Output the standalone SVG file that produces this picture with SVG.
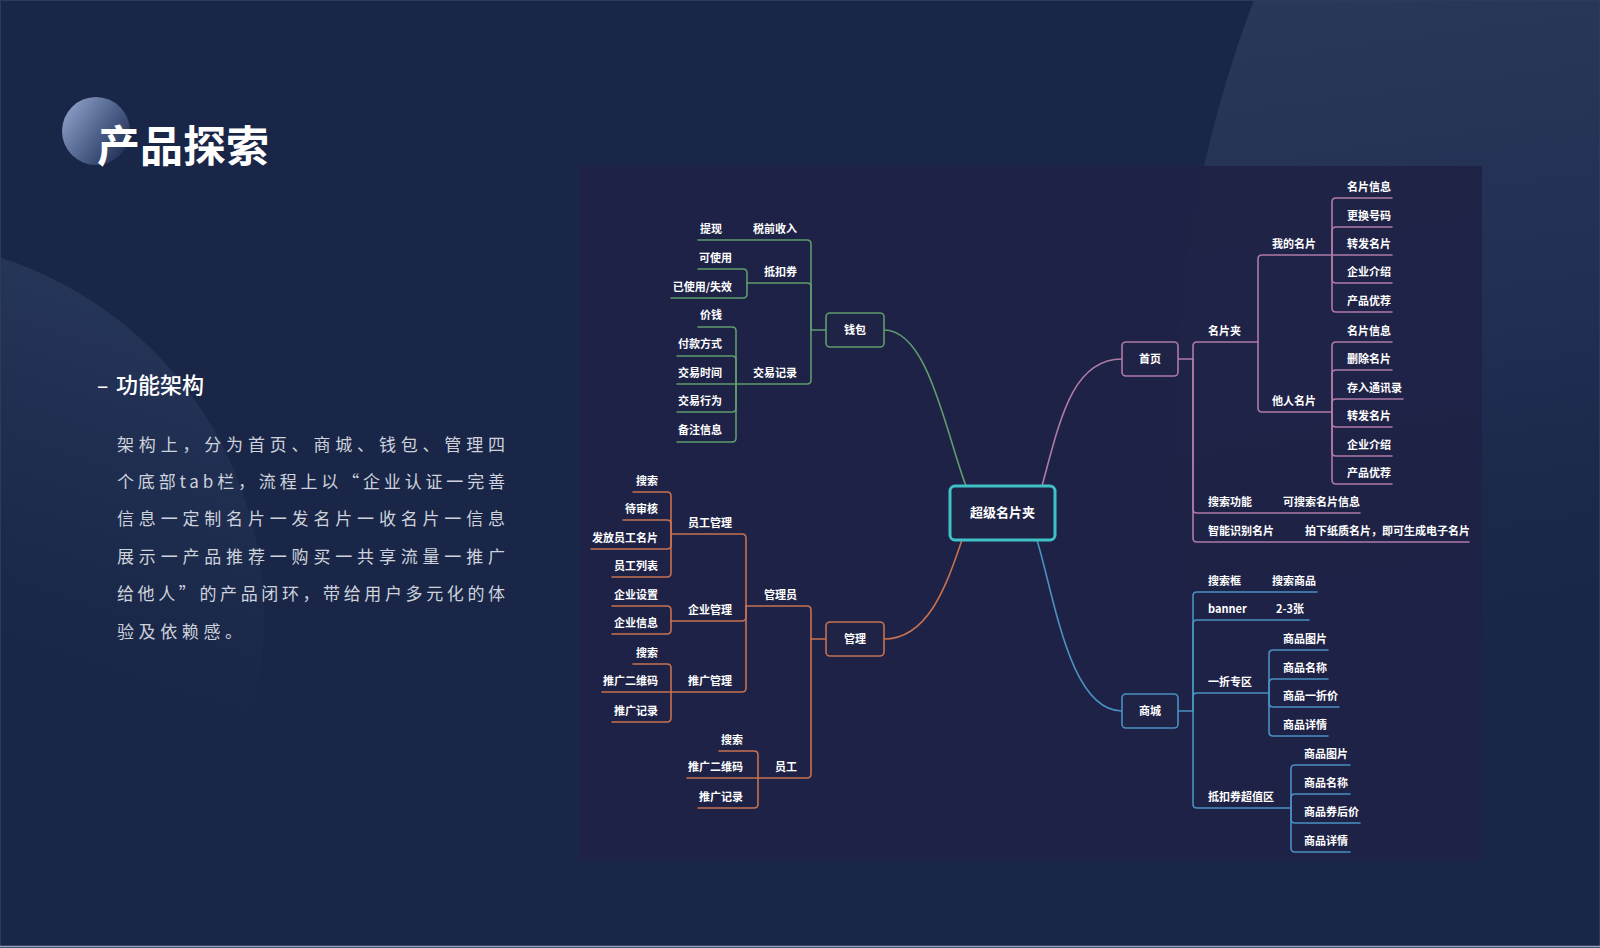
<svg xmlns="http://www.w3.org/2000/svg" width="1600" height="948" viewBox="0 0 1600 948">
<defs>
<linearGradient id="gTR" gradientUnits="userSpaceOnUse" x1="1300" y1="0" x2="1400" y2="720">
<stop offset="0" stop-color="#293859"/>
<stop offset="0.5" stop-color="#202e52"/>
<stop offset="1" stop-color="#192647" stop-opacity="0"/>
</linearGradient>
<linearGradient id="gBL" gradientUnits="userSpaceOnUse" x1="150" y1="250" x2="0" y2="720">
<stop offset="0" stop-color="#27375a"/>
<stop offset="0.55" stop-color="#1d2b4d"/>
<stop offset="1" stop-color="#192647" stop-opacity="0"/>
</linearGradient>
<linearGradient id="gDot" x1="0" y1="0.15" x2="1" y2="0.85">
<stop offset="0" stop-color="#91a3cb"/>
<stop offset="0.5" stop-color="#52658f"/>
<stop offset="1" stop-color="#1d2a4f"/>
</linearGradient>
<style>
.t{font-family:"Noto Sans CJK SC","Noto Sans",sans-serif;font-size:11px;font-weight:700;fill:#ffffff}
.e{text-anchor:end}
.m{text-anchor:middle}
.ln path{fill:none;stroke-width:1.6;stroke-linecap:round}
.grn path{stroke:#5f9c6e}
.org path{stroke:#c8714f}
.pnk path{stroke:#ae7ba6}
.blu path{stroke:#4a90c0}
.box{fill:#1f2346;stroke-width:1.6}
.para{font-family:"Noto Sans CJK SC","Noto Sans",sans-serif;font-size:17px;font-weight:400;fill:#cdd2dc}
</style>
</defs>
<rect x="0" y="0" width="1600" height="948" fill="#192647"/>
<circle cx="2385" cy="430" r="1210" fill="url(#gTR)"/>
<circle cx="-114" cy="618" r="378" fill="url(#gBL)"/>
<rect x="0.5" y="0.5" width="1599" height="947" fill="none" stroke="#2c3a5c" stroke-width="1"/>
<line x1="0" y1="946.5" x2="1600" y2="946.5" stroke="#9aa3b6" stroke-width="1.5"/>

<g id="title">
<circle cx="96" cy="131" r="34" fill="url(#gDot)"/>
<text x="97" y="162" font-family="Noto Sans CJK SC, Noto Sans, sans-serif" font-size="43" font-weight="700" fill="#ffffff">产品探索</text>
</g>

<g id="intro">
<text x="97" y="393" font-family="Noto Sans CJK SC, Noto Sans, sans-serif" font-size="21" font-weight="500" fill="#ffffff">–</text>
<text x="116" y="393" font-family="Noto Sans CJK SC, Noto Sans, sans-serif" font-size="22" font-weight="500" fill="#ffffff">功能架构</text>
<text class="para" x="117" y="451" textLength="388" lengthAdjust="spacing">架构上，分为首页、商城、钱包、管理四</text>
<text class="para" x="117" y="488" textLength="388" lengthAdjust="spacing">个底部tab栏，流程上以“企业认证一完善</text>
<text class="para" x="117" y="525" textLength="388" lengthAdjust="spacing">信息一定制名片一发名片一收名片一信息</text>
<text class="para" x="117" y="563" textLength="388" lengthAdjust="spacing">展示一产品推荐一购买一共享流量一推广</text>
<text class="para" x="117" y="600" textLength="388" lengthAdjust="spacing">给他人”的产品闭环，带给用户多元化的体</text>
<text class="para" x="117" y="638" letter-spacing="4.6">验及依赖感。</text>
</g>

<rect id="panel" x="580" y="166" width="902" height="694" fill="#1f2246" fill-opacity="0.9"/>

<g id="connectors" class="ln">
<g class="grn">
<path d="M884,330 C928,330 945,430 966,486"/>
<path d="M826,330 H811"/>
<path d="M811,330 V244 Q811,240 807,240 H698"/>
<path d="M811,330 V287 Q811,283 807,283 H747"/>
<path d="M811,330 V380 Q811,384 807,384 H677"/>
<path d="M747,283 V273 Q747,269 743,269 H698"/>
<path d="M747,283 V294 Q747,298 743,298 H671"/>
<path d="M736,384 V331 Q736,327 732,327 H698"/>
<path d="M736,384 V360 Q736,356 732,356 H677"/>
<path d="M736,384 V408 Q736,412 732,412 H677"/>
<path d="M736,384 V438 Q736,442 732,442 H677"/>
</g>
<g class="org">
<path d="M884,639 C930,639 948,580 962,540"/>
<path d="M826,639 H811"/>
<path d="M811,639 V610 Q811,606 807,606 H746"/>
<path d="M811,639 V774 Q811,778 807,778 H687"/>
<path d="M746,606 V538 Q746,534 742,534 H671"/>
<path d="M746,606 V617 Q746,621 742,621 H671"/>
<path d="M746,606 V688 Q746,692 742,692 H602"/>
<path d="M671,534 V496 Q671,492 667,492 H633"/>
<path d="M671,534 V524 Q671,520 667,520 H623"/>
<path d="M671,534 V545 Q671,549 667,549 H591"/>
<path d="M671,534 V573 Q671,577 667,577 H612"/>
<path d="M671,621 V610 Q671,606 667,606 H612"/>
<path d="M671,621 V630 Q671,634 667,634 H612"/>
<path d="M671,692 V668 Q671,664 667,664 H633"/>
<path d="M671,692 V718 Q671,722 667,722 H612"/>
<path d="M758,778 V755 Q758,751 754,751 H719"/>
<path d="M758,778 V804 Q758,808 754,808 H698"/>
</g>
<g class="pnk">
<path d="M1042,486 C1060,420 1072,359 1122,359"/>
<path d="M1178,359 H1193"/>
<path d="M1193,359 V346 Q1193,342 1197,342 H1258"/>
<path d="M1193,359 V509 Q1193,513 1197,513 H1360"/>
<path d="M1193,359 V538 Q1193,542 1197,542 H1469"/>
<path d="M1258,342 V259 Q1258,255 1262,255 H1332"/>
<path d="M1258,342 V408 Q1258,412 1262,412 H1332"/>
<path d="M1332,255 V202 Q1332,198 1336,198 H1392"/>
<path d="M1332,255 V231 Q1332,227 1336,227 H1392"/>
<path d="M1332,255 H1392"/>
<path d="M1332,255 V279 Q1332,283 1336,283 H1392"/>
<path d="M1332,255 V308 Q1332,312 1336,312 H1392"/>
<path d="M1332,412 V346 Q1332,342 1336,342 H1392"/>
<path d="M1332,412 V374 Q1332,370 1336,370 H1392"/>
<path d="M1332,412 V403 Q1332,399 1336,399 H1403"/>
<path d="M1332,412 V423 Q1332,427 1336,427 H1392"/>
<path d="M1332,412 V452 Q1332,456 1336,456 H1392"/>
<path d="M1332,412 V480 Q1332,484 1336,484 H1392"/>
</g>
<g class="blu">
<path d="M1037,540 C1055,600 1070,711 1122,711"/>
<path d="M1178,711 H1193"/>
<path d="M1193,711 V596 Q1193,592 1197,592 H1317"/>
<path d="M1193,711 V624 Q1193,620 1197,620 H1309"/>
<path d="M1193,711 V697 Q1193,693 1197,693 H1269"/>
<path d="M1193,711 V804 Q1193,808 1197,808 H1291"/>
<path d="M1269,693 V654 Q1269,650 1273,650 H1328"/>
<path d="M1269,693 V683 Q1269,679 1273,679 H1328"/>
<path d="M1269,693 V703 Q1269,707 1273,707 H1339"/>
<path d="M1269,693 V732 Q1269,736 1273,736 H1328"/>
<path d="M1291,808 V769 Q1291,765 1295,765 H1350"/>
<path d="M1291,808 V798 Q1291,794 1295,794 H1350"/>
<path d="M1291,808 V819 Q1291,823 1295,823 H1360"/>
<path d="M1291,808 V848 Q1291,852 1295,852 H1350"/>
</g>
</g>

<g id="root">
<rect x="950" y="486" width="105" height="54" rx="5" fill="#1f2346" stroke="#3fc2c6" stroke-width="3"/>
<text class="t m" x="1002.5" y="517" style="font-size:13px">超级名片夹</text>
</g>

<g id="wallet">
<rect class="box" x="826" y="313" width="58" height="34" rx="4" stroke="#5f9c6e"/>
<text class="t m" x="855" y="334">钱包</text>
<text class="t e" x="797" y="233">税前收入</text>
<text class="t e" x="722" y="233">提现</text>
<text class="t e" x="797" y="276">抵扣券</text>
<text class="t e" x="732" y="262">可使用</text>
<text class="t e" x="732" y="291">已使用/失效</text>
<text class="t e" x="797" y="377">交易记录</text>
<text class="t e" x="722" y="319">价钱</text>
<text class="t e" x="722" y="348">付款方式</text>
<text class="t e" x="722" y="377">交易时间</text>
<text class="t e" x="722" y="405">交易行为</text>
<text class="t e" x="722" y="434">备注信息</text>
</g>

<g id="manage">
<rect class="box" x="826" y="622" width="58" height="34" rx="4" stroke="#c8714f"/>
<text class="t m" x="855" y="643">管理</text>
<text class="t e" x="797" y="599">管理员</text>
<text class="t e" x="732" y="527">员工管理</text>
<text class="t e" x="658" y="485">搜索</text>
<text class="t e" x="658" y="513">待审核</text>
<text class="t e" x="658" y="542">发放员工名片</text>
<text class="t e" x="658" y="570">员工列表</text>
<text class="t e" x="732" y="614">企业管理</text>
<text class="t e" x="658" y="599">企业设置</text>
<text class="t e" x="658" y="627">企业信息</text>
<text class="t e" x="732" y="685">推广管理</text>
<text class="t e" x="658" y="657">搜索</text>
<text class="t e" x="658" y="685">推广二维码</text>
<text class="t e" x="658" y="715">推广记录</text>
<text class="t e" x="797" y="771">员工</text>
<text class="t e" x="743" y="744">搜索</text>
<text class="t e" x="743" y="771">推广二维码</text>
<text class="t e" x="743" y="801">推广记录</text>
</g>

<g id="home">
<rect class="box" x="1122" y="342" width="56" height="34" rx="4" stroke="#ae7ba6"/>
<text class="t m" x="1150" y="363">首页</text>
<text class="t" x="1208" y="335">名片夹</text>
<text class="t" x="1272" y="248">我的名片</text>
<text class="t" x="1347" y="191">名片信息</text>
<text class="t" x="1347" y="220">更换号码</text>
<text class="t" x="1347" y="248">转发名片</text>
<text class="t" x="1347" y="276">企业介绍</text>
<text class="t" x="1347" y="305">产品优荐</text>
<text class="t" x="1272" y="405">他人名片</text>
<text class="t" x="1347" y="335">名片信息</text>
<text class="t" x="1347" y="363">删除名片</text>
<text class="t" x="1347" y="392">存入通讯录</text>
<text class="t" x="1347" y="420">转发名片</text>
<text class="t" x="1347" y="449">企业介绍</text>
<text class="t" x="1347" y="477">产品优荐</text>
<text class="t" x="1208" y="506">搜索功能</text>
<text class="t" x="1283" y="506">可搜索名片信息</text>
<text class="t" x="1208" y="535">智能识别名片</text>
<text class="t" x="1305" y="535">拍下纸质名片，即可生成电子名片</text>
</g>

<g id="mall">
<rect class="box" x="1122" y="694" width="56" height="34" rx="4" stroke="#4a90c0"/>
<text class="t m" x="1150" y="715">商城</text>
<text class="t" x="1208" y="585">搜索框</text>
<text class="t" x="1272" y="585">搜索商品</text>
<text class="t" x="1208" y="613">banner</text>
<text class="t" x="1276" y="613">2-3张</text>
<text class="t" x="1208" y="686">一折专区</text>
<text class="t" x="1283" y="643">商品图片</text>
<text class="t" x="1283" y="672">商品名称</text>
<text class="t" x="1283" y="700">商品一折价</text>
<text class="t" x="1283" y="729">商品详情</text>
<text class="t" x="1208" y="801">抵扣券超值区</text>
<text class="t" x="1304" y="758">商品图片</text>
<text class="t" x="1304" y="787">商品名称</text>
<text class="t" x="1304" y="816">商品券后价</text>
<text class="t" x="1304" y="845">商品详情</text>
</g>
</svg>
